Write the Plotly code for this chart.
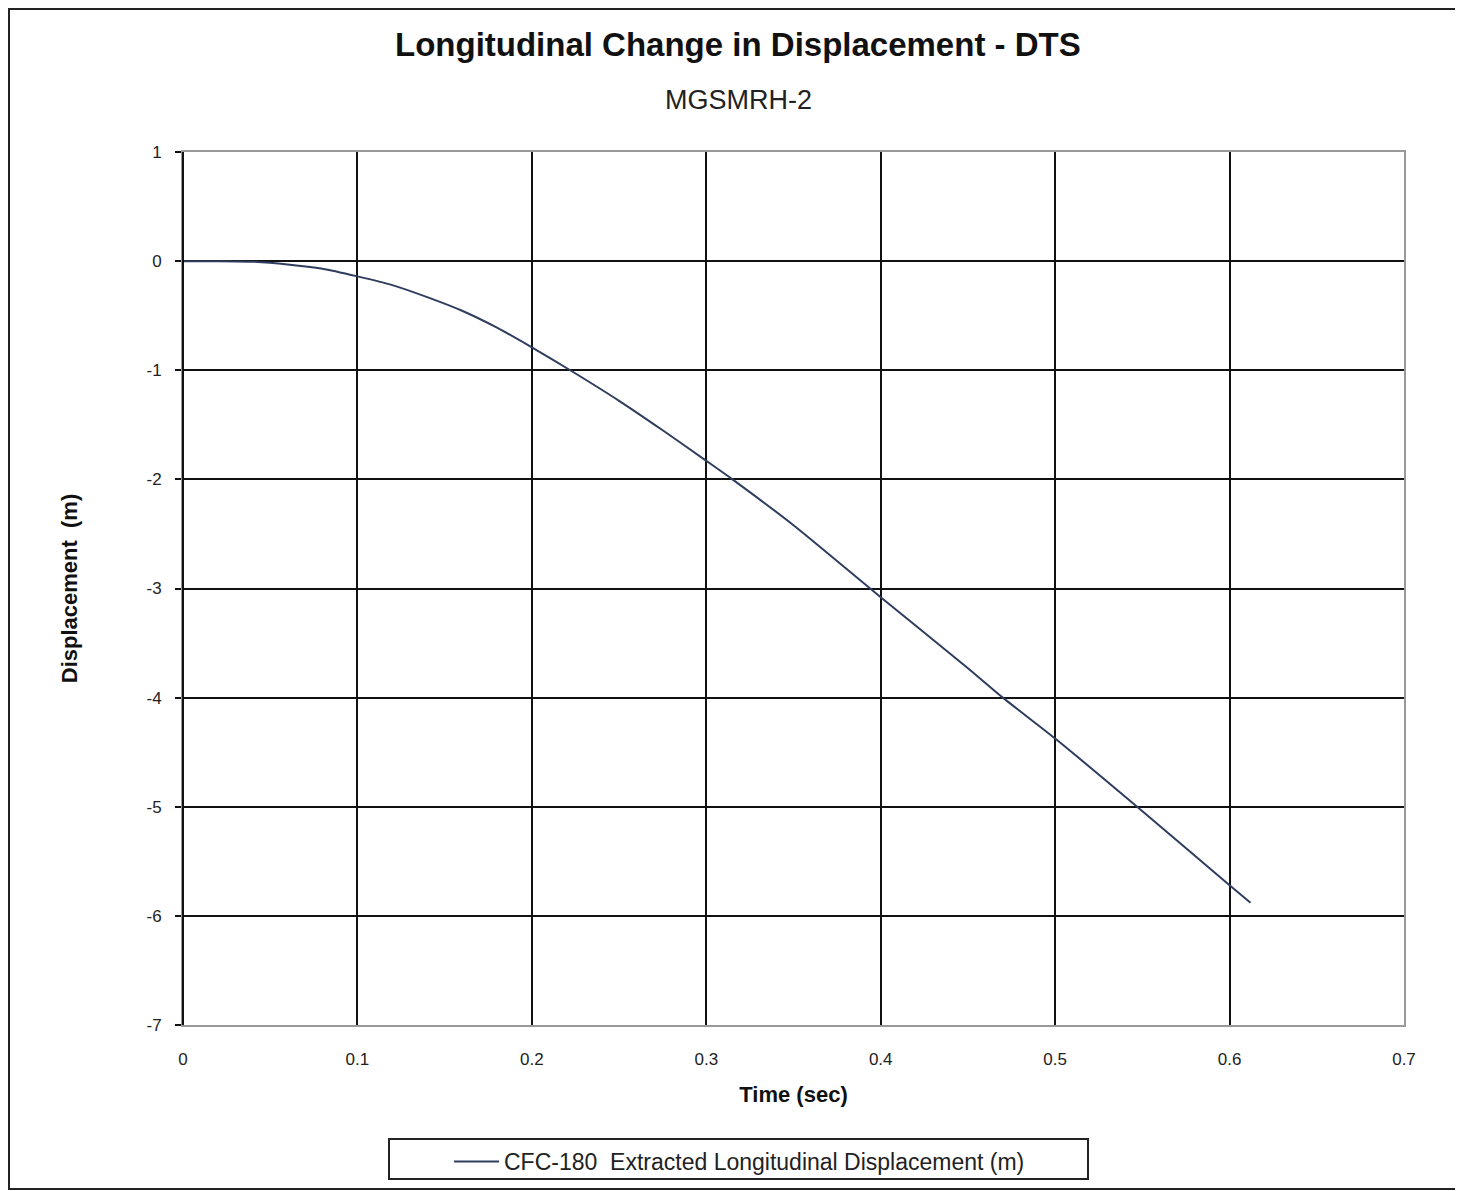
import plotly.graph_objects as go

time_sec = [0.0, 0.02, 0.04, 0.06, 0.08, 0.10, 0.12, 0.14, 0.16, 0.18, 0.20, 0.222,
            0.25, 0.275, 0.30, 0.315, 0.35, 0.40, 0.45, 0.47, 0.50, 0.547, 0.60, 0.612]
displacement_m = [0.0, 0.0, -0.005, -0.03, -0.07, -0.14, -0.22, -0.33, -0.455, -0.61,
                  -0.79, -1.0, -1.28, -1.55, -1.83, -2.0, -2.42, -3.08, -3.73, -4.0,
                  -4.375, -5.0, -5.72, -5.88]
x_ticks = [0, 0.1, 0.2, 0.3, 0.4, 0.5, 0.6, 0.7]
y_ticks = [1, 0, -1, -2, -3, -4, -5, -6, -7]

title_text = "Longitudinal Change in Displacement - DTS"
subtitle_text = "MGSMRH-2"
series_name = "CFC-180  Extracted Longitudinal Displacement (m)"

FONT = "Liberation Sans, Arial, sans-serif"
OFF = 8  # page body margin
W, H = 1463 - OFF, 1191 - OFF
L, R, T, B = 183, 1404, 152, 1025  # plot area in screenshot pixels


def px(xp):
    return (xp - L) / (R - L)


def py(yp):
    return (B - yp) / (B - T)


fig = go.Figure()
fig.add_trace(go.Scatter(
    x=time_sec, y=displacement_m, mode="lines", name=series_name,
    line=dict(color="#2f3d5e", width=2, shape="spline", smoothing=0.6),
))

fig.update_layout(
    width=W, height=H,
    margin=dict(l=L - OFF, r=W - (R - OFF), t=T - OFF, b=H - (B - OFF), autoexpand=False),
    paper_bgcolor="white", plot_bgcolor="white",
    font=dict(family=FONT, color="#222"),
    showlegend=True,
    legend=dict(
        x=px(449), y=py(1140), xanchor="left", yanchor="top",
        bgcolor="rgba(0,0,0,0)", borderwidth=0,
        font=dict(size=23, family=FONT, color="#222"),
        itemwidth=45,
    ),
    xaxis=dict(
        range=[0, 0.7], tickvals=x_ticks, ticktext=[str(v) for v in x_ticks],
        showgrid=True, gridcolor="#111", gridwidth=2,
        zeroline=False, showline=True, linecolor="#999", linewidth=2,
        ticks="", tickfont=dict(size=17, family=FONT, color="#222"),
        ticklabelstandoff=18,
        title=dict(text="<b>Time (sec)</b>", font=dict(size=22, family=FONT, color="#111"),
                   standoff=18),
        mirror=True,
    ),
    yaxis=dict(
        range=[-7, 1], tickvals=y_ticks, ticktext=[str(v) for v in y_ticks],
        showgrid=True, gridcolor="#111", gridwidth=2,
        zeroline=False, showline=True, linecolor="#999", linewidth=2,
        ticks="outside", ticklen=6, tickcolor="#111", tickwidth=2,
        tickfont=dict(size=17, family=FONT, color="#222"),
        ticklabelstandoff=10,
        title=dict(text="<b>Displacement  (m)</b>", font=dict(size=22, family=FONT, color="#111"),
                   standoff=63),
        mirror=True,
    ),
    annotations=[
        dict(text="<b>" + title_text + "</b>", xref="paper", yref="paper",
             x=px(738), y=py(44), xanchor="center", yanchor="middle", showarrow=False,
             font=dict(size=33, family=FONT, color="#111")),
        dict(text=subtitle_text, xref="paper", yref="paper",
             x=px(738), y=py(100), xanchor="center", yanchor="middle", showarrow=False,
             font=dict(size=27, family=FONT, color="#222")),
    ],
    shapes=[
        dict(type="rect", xref="paper", yref="paper",
             x0=px(9), x1=px(1460), y0=py(1189), y1=py(9),
             line=dict(color="#222", width=2), layer="below"),
        dict(type="line", xref="paper", yref="paper",
             x0=0, x1=0, y0=0, y1=1, line=dict(color="#111", width=2)),
        dict(type="rect", xref="paper", yref="paper",
             x0=px(389), x1=px(1088), y0=py(1179), y1=py(1139),
             line=dict(color="#222", width=2)),
    ],
)

fig.write_html("out.html")
